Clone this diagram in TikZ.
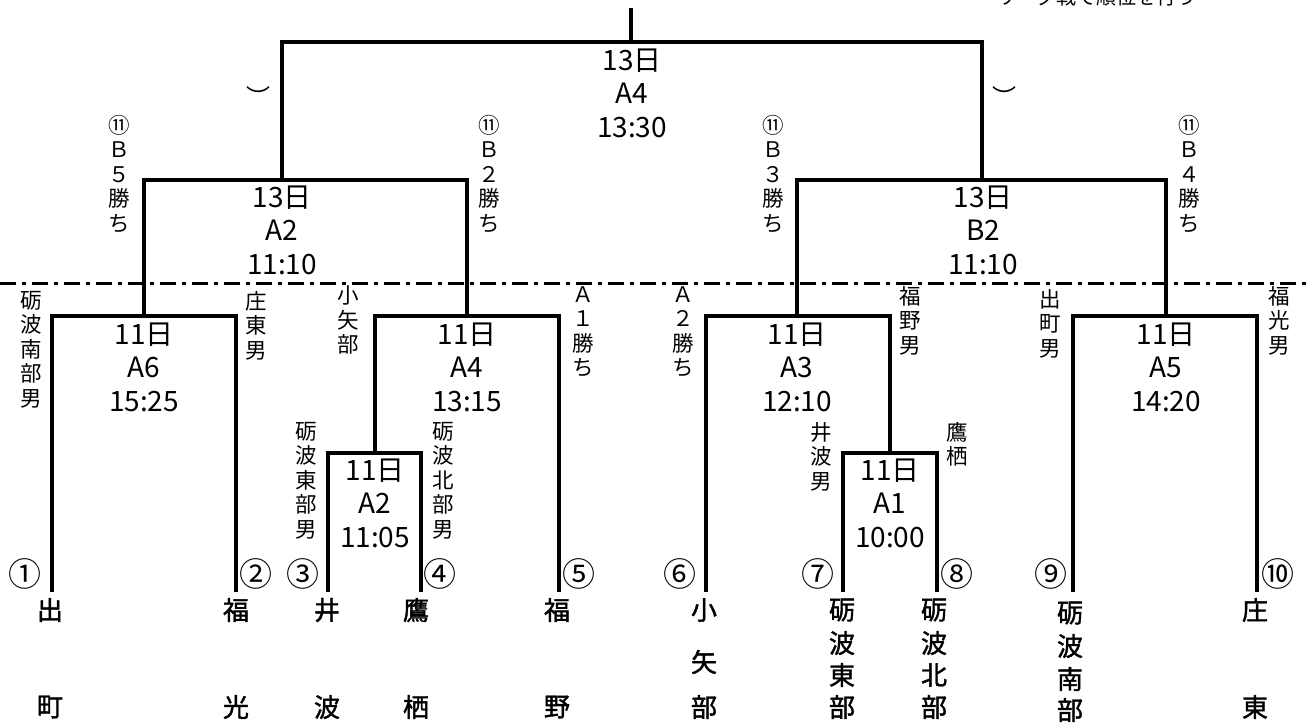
\documentclass[tikz,border=0pt]{standalone}
\usepackage{fontspec}
\newfontfamily\jp{Noto Sans CJK JP}
\newfontfamily\jpb[FakeBold=1.5]{Noto Sans CJK JP}
\newcommand\teamcol[3]{%
  \foreach \ch/\yy [count=\k] in {#3} {\node[tm] (#1-\k) at (#2,\yy) {\ch};}}
\begin{document}
\begin{tikzpicture}[x=1pt,y=-1pt,
  br/.style={line width=3.4pt,line join=miter},
  dashdotline/.style={line width=3pt,dash pattern=on 16pt off 6pt on 4pt off 6pt},
  gt/.style={font=\jp\fontsize{28}{33.5}\selectfont,align=center,inner sep=0pt},
  vt/.style={font=\jp\fontsize{21.5}{24.5}\selectfont,align=center,inner sep=0pt,anchor=north},
  cn/.style={font=\jp\fontsize{33}{33}\selectfont,inner sep=0pt},
  tm/.style={font=\jpb\fontsize{26}{26}\selectfont,inner sep=0pt},
  br2/.style={font=\jp\fontsize{24}{24}\selectfont,inner sep=0pt}]
\useasboundingbox (0,0) rectangle (1306,724);

% clipped note at top right
\node[font=\jp\fontsize{20}{20}\selectfont,inner sep=0pt,anchor=base east] (note) at (1197,4) {リーグ戦で順位を行う};

% team line ends
\coordinate (t1) at (52,592);
\coordinate (t2) at (236,592);
\coordinate (t3) at (328,592);
\coordinate (t4) at (421,592);
\coordinate (t5) at (559,592);
\coordinate (t6) at (706,592);
\coordinate (t7) at (843,592);
\coordinate (t8) at (937,592);
\coordinate (t9) at (1073,592);
\coordinate (t10) at (1257,592);

% game junctions
\coordinate (gA2s) at (375,453);
\coordinate (gA1s) at (890,453);
\coordinate (gA6) at (144,316);
\coordinate (gA4) at (467,316);
\coordinate (gA3) at (797,316);
\coordinate (gA5) at (1166,316);
\coordinate (g13A2) at (282,180);
\coordinate (gB2) at (982,180);
\coordinate (gF) at (631,42);
\coordinate (topend) at (631,8);

% bracket lines
\draw[br] (t3) |- (gA2s) -| (t4);
\draw[br] (t7) |- (gA1s) -| (t8);
\draw[br] (t1) |- (gA6) -| (t2);
\draw[br] (gA2s) |- (gA4) -| (t5);
\draw[br] (t6) |- (gA3) -| (gA1s);
\draw[br] (t9) |- (gA5) -| (t10);
\draw[br] (gA6) |- (g13A2) -| (gA4);
\draw[br] (gA3) |- (gB2) -| (gA5);
\draw[br] (g13A2) |- (gF) -| (gB2);
\draw[br] (gF) -- (topend);

% dash-dot divider
\coordinate (dl) at (0,283);
\coordinate (dr) at (1306,283);
\draw[dashdotline] (dl) -- (dr);

% game labels
\node[gt] (lF) at (632,93) {13日\\A4\\13:30};
\node[gt] (l13A2) at (282,230) {13日\\A2\\11:10};
\node[gt] (lB2) at (983,230) {13日\\B2\\11:10};
\node[gt] (lA6) at (144,367) {11日\\A6\\15:25};
\node[gt] (lA4) at (467,367) {11日\\A4\\13:15};
\node[gt] (lA3) at (797,367) {11日\\A3\\12:10};
\node[gt] (lA5) at (1166,367) {11日\\A5\\14:20};
\node[gt] (lA2s) at (375,503) {11日\\A2\\11:05};
\node[gt] (lA1s) at (890,503) {11日\\A1\\10:00};

% brackets
\node[br2] (p1) at (258,96) {︶};
\node[br2] (p2) at (1004,96) {︶};

% vertical labels
\node[vt] (v1) at (119,115) {⑪\\Ｂ\\５\\勝\\ち};
\node[vt] (v2) at (489,115) {⑪\\Ｂ\\２\\勝\\ち};
\node[vt] (v3) at (773,115) {⑪\\Ｂ\\３\\勝\\ち};
\node[vt] (v4) at (1189,115) {⑪\\Ｂ\\４\\勝\\ち};

\node[vt] (w1) at (31,291) {砺\\波\\南\\部\\男};
\node[vt] (w2) at (256,291) {庄\\東\\男};
\node[vt] (w3) at (348,286) {小\\矢\\部};
\node[vt] (w4) at (583,286) {Ａ\\１\\勝\\ち};
\node[vt] (w5) at (683,286) {Ａ\\２\\勝\\ち};
\node[vt] (w6) at (910,286) {福\\野\\男};
\node[vt] (w7) at (1050,289) {出\\町\\男};
\node[vt] (w8) at (1279,286) {福\\光\\男};
\node[vt] (w9) at (306,422) {砺\\波\\東\\部\\男};
\node[vt] (w10) at (443,422) {砺\\波\\北\\部\\男};
\node[vt] (w11) at (821,422) {井\\波\\男};
\node[vt] (w12) at (957,422) {鷹\\栖};

% circled numbers
\node[cn] (c1) at (25,574) {①};
\node[cn] (c2) at (256,574) {②};
\node[cn] (c3) at (303,574) {③};
\node[cn] (c4) at (440,574) {④};
\node[cn] (c5) at (579,574) {⑤};
\node[cn] (c6) at (680,574) {⑥};
\node[cn] (c7) at (818,574) {⑦};
\node[cn] (c8) at (957,574) {⑧};
\node[cn] (c9) at (1051,574) {⑨};
\node[cn] (c10) at (1278,574) {⑩};

% team names
\teamcol{n1}{50}{出/610,町/707}
\teamcol{n2}{236}{福/610,光/707}
\teamcol{n3}{327}{井/610,波/707}
\teamcol{n4}{416}{鷹/610,栖/707}
\teamcol{n5}{557}{福/610,野/707}
\teamcol{n6}{704}{小/610,矢/662,部/707}
\teamcol{n7}{842}{砺/610,波/643,東/675,部/707}
\teamcol{n8}{934}{砺/610,波/643,北/675,部/707}
\teamcol{n9}{1070}{砺/613,波/646,南/679,部/710}
\teamcol{n10}{1255}{庄/610,東/707}
\end{tikzpicture}
\end{document}
